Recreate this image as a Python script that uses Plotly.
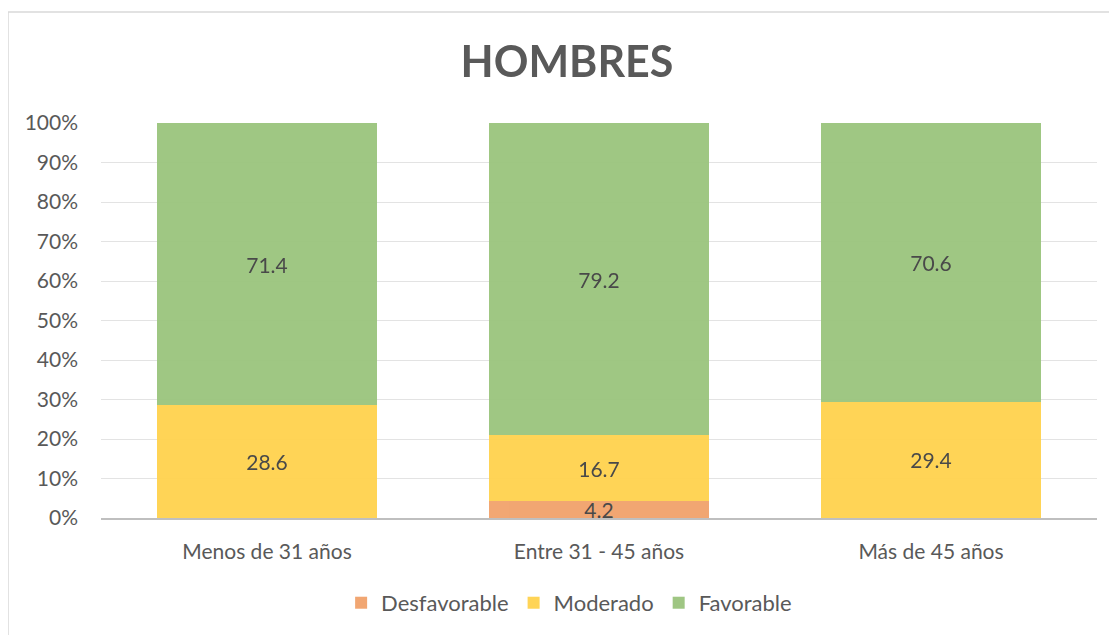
import plotly.graph_objects as go

categories = ["Menos de 31 años", "Entre 31 - 45 años", "Más de 45 años"]
desfavorable = [None, 4.2, None]
moderado = [28.6, 16.7, 29.4]
favorable = [71.4, 79.2, 70.6]
y_ticks = list(range(0, 101, 10))
y_tick_labels = [f"{v}%" for v in y_ticks]

FONT = "Lato, 'Open Sans', sans-serif"
GREY = "#595959"

series = [
    ("Desfavorable", desfavorable, "#F1A26B"),
    ("Moderado", moderado, "#FFD24D"),
    ("Favorable", favorable, "#9AC47D"),
]

fig = go.Figure()
for name, vals, color in series:
    fig.add_trace(go.Bar(
        name=name, x=categories, y=vals,
        marker=dict(color=color, line=dict(width=0)),
        opacity=0.95,
        text=[("" if v is None else f"{v}") for v in vals],
        textposition="inside", insidetextanchor="middle",
        constraintext="none",
        textfont=dict(family=FONT, size=21, color="#404040"),
        hoverinfo="skip",
    ))

# page has an 8px body margin; figure sized to fit the 1117x635 window
W, H = 1109, 627
L, T, PW, PH = 93, 115, 996, 395

fig.update_layout(
    barmode="stack",
    bargap=0.336,
    width=W, height=H,
    margin=dict(l=L, r=W - L - PW, t=T, b=H - T - PH, autoexpand=False),
    paper_bgcolor="white", plot_bgcolor="white",
    font=dict(family=FONT, color=GREY, size=21),
    title=dict(text="<b>HOMBRES</b>", x=(567 - 8) / W, xanchor="center",
               y=1 - 54 / H, yanchor="middle", yref="container",
               font=dict(family=FONT, size=43, color=GREY)),
    legend=dict(orientation="h", x=0.47, xanchor="center", y=-0.215, yanchor="middle",
                traceorder="normal", font=dict(family=FONT, size=22, color=GREY)),
    xaxis=dict(showline=True, linecolor="#BFBFBF", linewidth=1.5, ticks="",
               tickfont=dict(family=FONT, size=21, color=GREY), ticklabelstandoff=14,
               showgrid=False),
    yaxis=dict(range=[0, 100], tickvals=y_ticks, ticktext=y_tick_labels,
               showgrid=True, gridcolor="#E3E3E3", gridwidth=1.2, zeroline=False,
               ticks="", ticklabelstandoff=22,
               tickfont=dict(family=FONT, size=21, color=GREY)),
    shapes=[dict(type="rect", xref="paper", yref="paper",
                 x0=(8 - 101) / PW, x1=1.2, y0=-0.5, y1=(518 - 12) / PH,
                 line=dict(color="#D9D9D9", width=1.5), layer="below")],
)

fig.write_html("out.html")
